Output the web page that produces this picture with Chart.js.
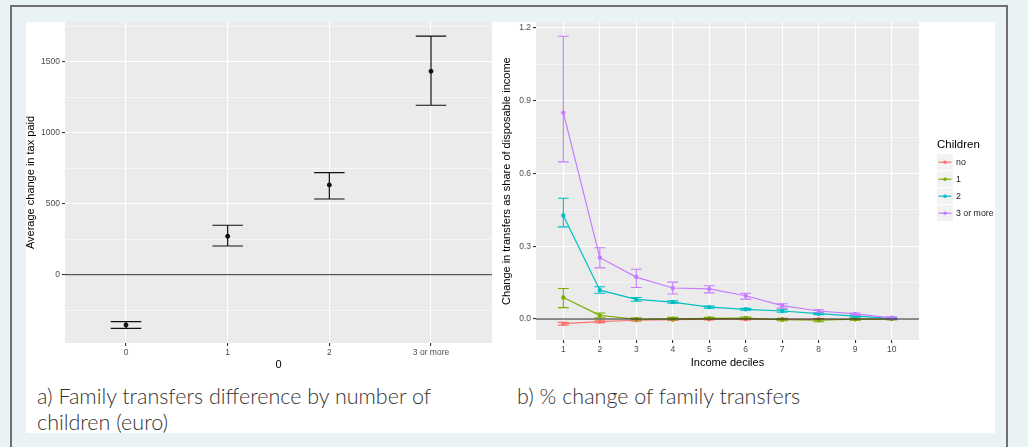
<!DOCTYPE html>
<html>
<head>
<meta charset="utf-8">
<script src="https://cdn.jsdelivr.net/npm/chart.js@4.4.1/dist/chart.umd.min.js"></script>
<style>
    html, body { margin: 0; padding: 0; }
    body { width: 1028px; height: 447px; background: #e9f2f4; overflow: hidden; position: relative; }
    .frame { position: absolute; left: 10px; top: 5px; width: 998px; height: 450px; border: 2px solid #707070; box-sizing: border-box; }
    .sheet { position: absolute; left: 26px; top: 22px; width: 969px; height: 411px; background: #fff; }
    .plot { position: absolute; }
    .caption { position: absolute; font-family: Lato, 'Open Sans', sans-serif; font-weight: 300; font-size: 21.5px; line-height: 26px; color: #333; }
</style>
</head>
<body>
<div class="frame"></div>
<div class="sheet"></div>
<!-- el canvas empieza 5px arriba: Chart.js reserva medio alto de etiqueta sobre el panel -->
<div class="plot" style="left:24px; top:17px; width:473px; height:355px"><canvas id="tax-chart"></canvas></div>
<div class="plot" style="left:497px; top:17px; width:498px; height:355px"><canvas id="share-chart"></canvas></div>
<div class="caption" style="left:37px; top:383px">a) Family transfers difference by number of<br>children (euro)</div>
<div class="caption" style="left:517px; top:383px">b) % change of family transfers</div>

<script>
// ===== DATOS =====
// a) change in tax paid by number of children
const childCats = ['0', '1', '2', '3 or more'];
const taxChange = [-354, 270, 632, 1432];
const taxLow    = [-378, 202, 533, 1193];
const taxHigh   = [-331, 348, 718, 1679];
const taxTicks  = [-250, 0, 250, 500, 750, 1000, 1250, 1500, 1750];

// b) change in transfers as share of disposable income, by decile
const deciles = [1, 2, 3, 4, 5, 6, 7, 8, 9, 10];
const shareTicks = [0, 0.15, 0.3, 0.45, 0.6, 0.75, 0.9, 1.05, 1.2];
const seriesNames = ['no', '1', '2', '3 or more'];
const seriesColors = ['#F8766D', '#7CAE00', '#00BFC4', '#C77CFF'];

const shareNo   = [-0.019, -0.011, -0.005, -0.003, -0.001, -0.001, -0.001, -0.001, -0.001, 0.000];
const lowNo     = [-0.025, -0.015, -0.008, -0.006, -0.004, -0.004, -0.004, -0.004, -0.004, -0.003];
const highNo    = [-0.014, -0.007, -0.002, 0.000, 0.002, 0.002, 0.002, 0.002, 0.002, 0.003];

const share1    = [0.089, 0.015, -0.001, 0.001, 0.003, 0.004, -0.003, -0.005, -0.001, 0.000];
const low1      = [0.047, 0.005, -0.007, -0.004, -0.001, -0.001, -0.007, -0.011, -0.005, -0.003];
const high1     = [0.126, 0.025, 0.005, 0.007, 0.007, 0.008, 0.003, 0.000, 0.003, 0.002];

const share2    = [0.427, 0.119, 0.081, 0.070, 0.049, 0.040, 0.033, 0.022, 0.012, 0.003];
const low2      = [0.380, 0.106, 0.073, 0.065, 0.045, 0.036, 0.028, 0.018, 0.008, 0.000];
const high2     = [0.498, 0.133, 0.089, 0.075, 0.053, 0.044, 0.038, 0.026, 0.016, 0.006];

const share3    = [0.851, 0.253, 0.173, 0.128, 0.124, 0.096, 0.055, 0.033, 0.021, 0.005];
const low3      = [0.648, 0.211, 0.130, 0.103, 0.108, 0.082, 0.045, 0.026, 0.015, 0.001];
const high3     = [1.166, 0.294, 0.205, 0.152, 0.137, 0.106, 0.063, 0.038, 0.025, 0.009];

// ===== ESTILO COMÚN =====
const FONT = "'Liberation Sans', Arial, sans-serif";
const TICK_FONT = { family: FONT, size: 8.5 };
const TITLE_FONT = { family: FONT, size: 11 };

// panel gris tipo ggplot
const panelBg = {
    id: 'panelBg',
    beforeDraw(chart) {
        const { ctx, chartArea: a } = chart;
        ctx.save();
        ctx.fillStyle = '#ebebeb';
        ctx.fillRect(a.left, a.top, a.right - a.left, a.bottom - a.top);
        ctx.restore();
    }
};

// barras de error: dataset.errLow / dataset.errHigh, ancho en unidades de x
const errorBars = {
    id: 'errorBars',
    beforeDatasetsDraw(chart, args, opts) {
        const { ctx, scales: { x, y } } = chart;
        ctx.save();
        chart.data.datasets.forEach(ds => {
            if (!ds.errLow) return;
            ctx.strokeStyle = ds.borderColor;
            ctx.lineWidth = opts.lineWidth || 1;
            ds.data.forEach((p, i) => {
                const px = x.getPixelForValue(p.x);
                const x0 = x.getPixelForValue(p.x - opts.halfWidth);
                const x1 = x.getPixelForValue(p.x + opts.halfWidth);
                const yl = y.getPixelForValue(ds.errLow[i]);
                const yh = y.getPixelForValue(ds.errHigh[i]);
                ctx.beginPath();
                ctx.moveTo(px, yl); ctx.lineTo(px, yh);
                ctx.moveTo(x0, yl); ctx.lineTo(x1, yl);
                ctx.moveTo(x0, yh); ctx.lineTo(x1, yh);
                ctx.stroke();
            });
        });
        ctx.restore();
    }
};

// línea horizontal en y = 0
const zeroLine = {
    id: 'zeroLine',
    afterDatasetsDraw(chart, args, opts) {
        const { ctx, chartArea: a, scales: { y } } = chart;
        const py = y.getPixelForValue(0);
        ctx.save();
        ctx.strokeStyle = opts.color || '#222';
        ctx.lineWidth = opts.width || 1;
        ctx.beginPath();
        ctx.moveTo(a.left, py); ctx.lineTo(a.right, py);
        ctx.stroke();
        ctx.restore();
    }
};

function fixAxis(size, vertical) {
    return scale => {
        if (vertical) scale.width = size; else scale.height = size;
        scale.paddingTop = 0; scale.paddingBottom = 0;
        scale.paddingLeft = 0; scale.paddingRight = 0;
    };
}

const setTicks = values => scale => { scale.ticks = values.map(v => ({ value: v })); };
const isMajor = (v, step) => Math.abs(v / step - Math.round(v / step)) < 1e-6;

// ===== GRÁFICA A =====
new Chart(document.getElementById('tax-chart'), {
    type: 'scatter',
    data: {
        datasets: [{
            data: taxChange.map((v, i) => ({ x: i, y: v })),
            errLow: taxLow,
            errHigh: taxHigh,
            borderColor: '#111',
            backgroundColor: '#111',
            pointRadius: 2,
            showLine: false,
        }]
    },
    options: {
        responsive: true,
        maintainAspectRatio: false,
        animation: false,
        layout: { padding: { left: 0, right: 5, top: 0, bottom: 0 } },
        plugins: {
            legend: { display: false },
            tooltip: { enabled: false },
            errorBars: { halfWidth: 0.15, lineWidth: 1.2 },
            zeroLine: { color: '#333', width: 1 },
        },
        scales: {
            x: {
                type: 'linear', min: -0.6, max: 3.6,
                afterBuildTicks: setTicks(childCats.map((c, i) => i)),
                afterFit: fixAxis(29, false),
                border: { display: false },
                grid: { color: '#fff', lineWidth: 1.1, tickLength: 3, tickColor: '#333' },
                ticks: {
                    autoSkip: false, maxRotation: 0,
                    padding: 2, color: '#4d4d4d', font: TICK_FONT,
                    callback: v => childCats[v] ?? '',
                },
                title: { display: true, text: '0', color: '#000', font: TITLE_FONT, padding: { top: 0, bottom: 0 } },
            },
            y: {
                min: -481, max: 1779,
                afterBuildTicks: setTicks(taxTicks),
                afterFit: fixAxis(41, true),
                border: { display: false },
                grid: {
                    color: '#fff', tickLength: 3,
                    lineWidth: c => isMajor(c.tick.value, 500) ? 1.1 : 0.5,
                    tickColor: c => isMajor(c.tick.value, 500) ? '#333' : 'rgba(0,0,0,0)',
                },
                ticks: {
                    autoSkip: false,
                    padding: 2, color: '#4d4d4d', font: TICK_FONT,
                    callback: v => isMajor(v, 500) ? String(v) : '',
                },
                title: { display: true, text: 'Average change in tax paid', color: '#000', font: TITLE_FONT, padding: { top: 0, bottom: 0 } },
            }
        }
    },
    plugins: [panelBg, errorBars, zeroLine]
});

// ===== GRÁFICA B =====
const shareSeries = [shareNo, share1, share2, share3];
const lowSeries = [lowNo, low1, low2, low3];
const highSeries = [highNo, high1, high2, high3];

// leyenda estilo ggplot
const ggLegend = {
    id: 'ggLegend',
    afterDraw(chart) {
        const { ctx, chartArea: a } = chart;
        const x = a.right + 18;
        const y0 = a.top;
        ctx.save();
        ctx.fillStyle = '#000';
        ctx.font = `11.5px ${FONT}`;
        ctx.textBaseline = 'middle';
        ctx.fillText('Children', x, y0 + 123);
        seriesNames.forEach((name, i) => {
            const cy = y0 + 140 + i * 17;
            ctx.fillStyle = '#f2f2f2';
            ctx.fillRect(x, cy - 8, 16, 16);
            ctx.strokeStyle = seriesColors[i];
            ctx.lineWidth = 1.2;
            ctx.beginPath();
            ctx.moveTo(x + 1.5, cy); ctx.lineTo(x + 14.5, cy);
            ctx.stroke();
            ctx.fillStyle = seriesColors[i];
            ctx.beginPath();
            ctx.arc(x + 8, cy, 1.8, 0, Math.PI * 2);
            ctx.fill();
            ctx.fillStyle = '#1a1a1a';
            ctx.font = `8.8px ${FONT}`;
            ctx.fillText(name, x + 19, cy);
        });
        ctx.restore();
    }
};

new Chart(document.getElementById('share-chart'), {
    type: 'line',
    data: {
        datasets: seriesNames.map((name, i) => ({
            label: name,
            data: shareSeries[i].map((v, j) => ({ x: deciles[j], y: v })),
            errLow: lowSeries[i],
            errHigh: highSeries[i],
            borderColor: seriesColors[i],
            backgroundColor: seriesColors[i],
            borderWidth: 1.2,
            pointRadius: 1.6,
            tension: 0,
            order: 3 - i,
        }))
    },
    options: {
        responsive: true,
        maintainAspectRatio: false,
        animation: false,
        layout: { padding: { left: 0, right: 76, top: 0, bottom: 0 } },
        plugins: {
            legend: { display: false },
            tooltip: { enabled: false },
            errorBars: { halfWidth: 0.15, lineWidth: 1.1 },
            zeroLine: { color: '#222', width: 1.2 },
        },
        scales: {
            x: {
                type: 'linear', min: 0.25, max: 10.75,
                afterBuildTicks: setTicks(deciles),
                afterFit: fixAxis(32, false),
                border: { display: false },
                grid: { color: '#fff', lineWidth: 1.1, tickLength: 3, tickColor: '#333' },
                ticks: {
                    autoSkip: false, maxRotation: 0,
                    padding: 2, color: '#4d4d4d', font: TICK_FONT,
                },
                title: { display: true, text: 'Income deciles', color: '#000', font: TITLE_FONT, padding: { top: 0, bottom: 2 } },
            },
            y: {
                min: -0.0865, max: 1.224,
                afterBuildTicks: setTicks(shareTicks),
                afterFit: fixAxis(39, true),
                border: { display: false },
                grid: {
                    color: '#fff', tickLength: 3,
                    lineWidth: c => isMajor(c.tick.value, 0.3) ? 1.1 : 0.5,
                    tickColor: c => isMajor(c.tick.value, 0.3) ? '#333' : 'rgba(0,0,0,0)',
                },
                ticks: {
                    autoSkip: false,
                    padding: 2, color: '#4d4d4d', font: TICK_FONT,
                    callback: v => isMajor(v, 0.3) ? v.toFixed(1) : '',
                },
                title: { display: true, text: 'Change in transfers as share of disposable income', color: '#000', font: TITLE_FONT, padding: { top: 3, bottom: 0 } },
            }
        }
    },
    plugins: [panelBg, errorBars, zeroLine, ggLegend]
});
</script>
</body>
</html>
